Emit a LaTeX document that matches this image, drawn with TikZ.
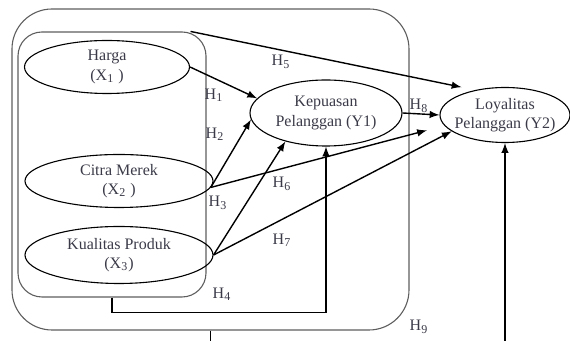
\documentclass[tikz,border=0pt]{standalone}
\usepackage{fontspec}
\setmainfont{Liberation Serif}
\usetikzlibrary{arrows,shapes,positioning}
\definecolor{txtgray}{HTML}{3A3A48}
\definecolor{boxgray}{HTML}{5E5E5E}

\begin{document}
\begin{tikzpicture}[x=0.5pt,y=-0.5pt,
    var/.style={ellipse,draw,line width=0.55pt,inner sep=0pt,align=center,
      font=\fontsize{8}{9.6}\selectfont,text=txtgray},
    box/.style={draw=boxgray,line width=0.55pt},
    hyp/.style={font=\fontsize{8}{9}\selectfont,text=txtgray,inner sep=0pt},
    con/.style={-latex,line width=0.7pt}]
    \useasboundingbox (0,0) rectangle (570,341);
    \clip (0,0) rectangle (570,341);
    % groups of variables
    \node[box,rounded corners=20pt,minimum width=198.5pt,minimum height=160.5pt] at (210.5,169.5) (outer) {};
    \node[box,rounded corners=12pt,minimum width=94pt,minimum height=132.5pt] at (112,164.5) (inner) {};
    % variables
    \node[var,minimum width=82.5pt,minimum height=26.5pt] at (107,67) (harga) {Harga\\(X\textsubscript{1} )};
    \node[var,minimum width=94pt,minimum height=26.5pt] at (119,181) (citra) {Citra Merek\\(X\textsubscript{2} )};
    \node[var,minimum width=94pt,minimum height=28.5pt] at (119,255) (kualitas) {Kualitas Produk\\(X\textsubscript{3})};
    \node[var,minimum width=76pt,minimum height=33pt] at (326,113) (kepuasan) {Kepuasan\\Pelanggan (Y1)};
    \node[var,inner xsep=-3pt,minimum width=65pt,minimum height=27.5pt] at (505,115) (loyal) {Loyalitas\\Pelanggan (Y2)};
    % paths
    \draw[con] (harga.east) -- (kepuasan.168);
    \draw[con] (citra.-4) -- (kepuasan.185);
    \draw[con] (kualitas.east) -- (kepuasan.215);
    \draw[con] ([xshift=-8pt]inner.north east) -- (loyal.140) [shorten >=7pt];
    \draw[con,shorten >=9pt] (citra.-4) -- (loyal.190);
    \draw[con] (kualitas.east) -- (loyal.197);
    \draw[con] (kepuasan.east) -- (loyal.west);
    \draw[con] (inner.south) -- ++(0,15) -| (kepuasan.south);
    \draw[con] (outer.south) -- ++(0,30) -| (loyal.south);
    % hypothesis labels
    \node[hyp] at (214,95) (h1) {H\textsubscript{1}};
    \node[hyp] at (215,134) (h2) {H\textsubscript{2}};
    \node[hyp] at (218,203) (h3) {H\textsubscript{3}};
    \node[hyp] at (222,294) (h4) {H\textsubscript{4}};
    \node[hyp] at (281,62) (h5) {H\textsubscript{5}};
    \node[hyp] at (282,184) (h6) {H\textsubscript{6}};
    \node[hyp] at (282,240) (h7) {H\textsubscript{7}};
    \node[hyp] at (419,106) (h8) {H\textsubscript{8}};
    \node[hyp] at (419,327) (h9) {H\textsubscript{9}};
\end{tikzpicture}
\end{document}
